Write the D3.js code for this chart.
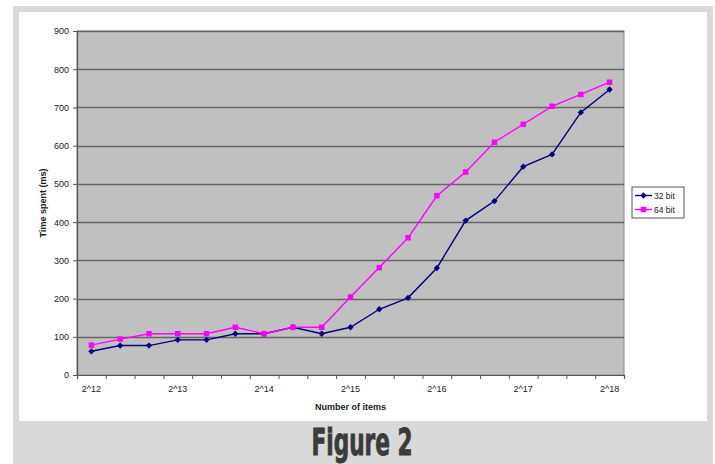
<!DOCTYPE html>
<html>
<head>
<meta charset="utf-8">
<script src="https://cdn.jsdelivr.net/npm/d3@7"></script>
<style>
  html, body { margin: 0; padding: 0; background: #ffffff; }
  svg { display: block; }
  text { font-family: "Liberation Sans", Arial, sans-serif; fill: #1a1a1a; }
</style>
</head>
<body>
<svg id="chart" width="715" height="464"></svg>
<script>
// Category tick labels (one entry per measured size, labelled every third step)
const tickLabels = ["2^12", "", "", "2^13", "", "", "2^14", "", "", "2^15", "", "", "2^16", "", "", "2^17", "", "", "2^18"];
const yTicks = [0, 100, 200, 300, 400, 500, 600, 700, 800, 900];

// Measured times (ms)
const bit32 = [62, 77, 77, 92, 92, 108, 108, 125, 108, 125, 172, 202, 280, 404, 455, 545, 577, 687, 747];
const bit64 = [78, 94, 108, 108, 108, 125, 108, 125, 125, 204, 281, 359, 469, 531, 609, 656, 703, 734, 766];

const seriesNames = ["32 bit", "64 bit"];
const seriesColors = ["#000080", "#ff00ff"];

const svg = d3.select("#chart");

// Frame: grey surround with a white chart panel
svg.append("rect").attr("x", 13).attr("y", 6).attr("width", 700).attr("height", 458).attr("fill", "#d9d9d9");
svg.append("rect").attr("x", 19).attr("y", 12).attr("width", 688).attr("height", 409).attr("fill", "#ffffff");

const plot = { left: 77, right: 624, top: 31, bottom: 375 };

const idx = tickLabels.map((d, i) => i);
const x = d3.scaleBand().domain(idx).range([plot.left, plot.right]).paddingInner(0).paddingOuter(0);
const xEdge = d3.scaleLinear().domain([0, tickLabels.length]).range([plot.left, plot.right]);
const y = d3.scaleLinear().domain([0, 900]).range([plot.bottom, plot.top]);
const cx = i => x(i) + x.bandwidth() / 2;

// Plot area
svg.append("rect")
  .attr("x", plot.left).attr("y", plot.top)
  .attr("width", plot.right - plot.left).attr("height", plot.bottom - plot.top)
  .attr("fill", "#c0c0c0").attr("stroke", "#8a8a8a").attr("stroke-width", 1);

// Horizontal gridlines
svg.append("g").selectAll("line")
  .data(yTicks.filter(d => d > 0))
  .join("line")
  .attr("x1", plot.left).attr("x2", plot.right)
  .attr("y1", d => Math.round(y(d)) + 0.5).attr("y2", d => Math.round(y(d)) + 0.5)
  .attr("stroke", "#666").attr("stroke-width", 1.3);

// Y axis
const yAxis = svg.append("g")
  .attr("transform", `translate(${plot.left},0)`)
  .call(d3.axisLeft(y).tickValues(yTicks).tickSize(4).tickPadding(4).tickFormat(d3.format("d")));
yAxis.select(".domain").attr("stroke", "#555").attr("stroke-width", 1.2);
yAxis.selectAll(".tick line").attr("stroke", "#555");
yAxis.selectAll("text").style("font-size", "9px").attr("fill", "#222").attr("font-family", "Liberation Sans, Arial, sans-serif");

// X axis: tick marks on category boundaries
const xTickAxis = svg.append("g")
  .attr("transform", `translate(0,${plot.bottom})`)
  .call(d3.axisBottom(xEdge).tickValues(d3.range(0, tickLabels.length + 1)).tickSize(4).tickFormat(""));
xTickAxis.select(".domain").attr("stroke", "#555").attr("stroke-width", 1.2);
xTickAxis.selectAll(".tick line").attr("stroke", "#555");

// X axis: category labels centred on each category
const xLabelAxis = svg.append("g")
  .attr("transform", `translate(0,${plot.bottom})`)
  .call(d3.axisBottom(x).tickSize(0).tickPadding(11).tickFormat(i => tickLabels[i]));
xLabelAxis.select(".domain").remove();
xLabelAxis.selectAll("text").style("font-size", "9px").attr("fill", "#222").attr("font-family", "Liberation Sans, Arial, sans-serif");

// Axis titles
svg.append("text")
  .attr("x", (plot.left + plot.right) / 2).attr("y", 410)
  .attr("text-anchor", "middle")
  .style("font-size", "9px").style("font-weight", "bold")
  .text("Number of items");

svg.append("text")
  .attr("transform", `translate(46,${(plot.top + plot.bottom) / 2}) rotate(-90)`)
  .attr("text-anchor", "middle")
  .style("font-size", "9px").style("font-weight", "bold")
  .text("Time spent (ms)");

// Series lines and markers (diamond = square turned 45°)
const line = d3.line().x((d, i) => cx(i)).y(d => y(d));
const diamond = d3.symbol().type(d3.symbolSquare).size(20);
const square = d3.symbol().type(d3.symbolSquare).size(30);
const markerRotation = [45, 0];

function drawSeries(values, color, symbol, rot) {
  const g = svg.append("g");
  g.append("path").datum(values)
    .attr("d", line).attr("fill", "none")
    .attr("stroke", color).attr("stroke-width", 1.4);
  g.selectAll("path.m").data(values).join("path")
    .attr("class", "m")
    .attr("d", symbol)
    .attr("transform", (d, i) => `translate(${cx(i)},${y(d)}) rotate(${rot})`)
    .attr("fill", color);
}
drawSeries(bit32, seriesColors[0], diamond, markerRotation[0]);
drawSeries(bit64, seriesColors[1], square, markerRotation[1]);

// Legend
const legend = svg.append("g").attr("transform", "translate(632,187)");
legend.append("rect").attr("x", 0).attr("y", 0).attr("width", 52).attr("height", 31)
  .attr("fill", "#ffffff").attr("stroke", "#555").attr("stroke-width", 1);
const symbols = [diamond, square];
seriesNames.forEach((name, k) => {
  const ly = 8.5 + k * 14;
  legend.append("line").attr("x1", 3).attr("x2", 20).attr("y1", ly).attr("y2", ly)
    .attr("stroke", seriesColors[k]).attr("stroke-width", 1.4);
  legend.append("path").attr("d", symbols[k]).attr("transform", `translate(11.5,${ly}) rotate(${markerRotation[k]})`)
    .attr("fill", seriesColors[k]);
  legend.append("text").attr("x", 22).attr("y", ly + 3)
    .style("font-size", "8.5px").text(name);
});

// Caption
svg.append("text")
  .attr("x", 362).attr("y", 455)
  .attr("text-anchor", "middle")
  .attr("textLength", 101).attr("lengthAdjust", "spacingAndGlyphs")
  .style("font-family", "'Liberation Sans Narrow', 'DejaVu Sans Condensed', sans-serif")
  .style("font-size", "38px").style("font-weight", "bold")
  .style("fill", "#3b3b3b").style("stroke", "#3b3b3b").style("stroke-width", 0.9)
  .text("Figure 2");
</script>
</body>
</html>
